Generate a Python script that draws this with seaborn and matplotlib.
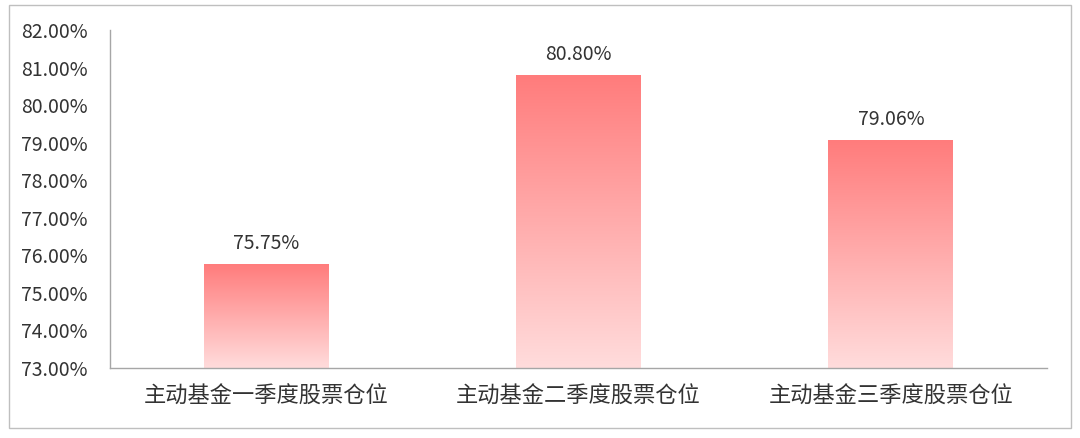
import numpy as np
import pandas as pd
import matplotlib
matplotlib.use('Agg')
import matplotlib.pyplot as plt
from matplotlib.colors import LinearSegmentedColormap
from matplotlib.patches import Rectangle
from matplotlib.ticker import FuncFormatter
import seaborn as sns

# 数据
categories = ['主动基金一季度股票仓位', '主动基金二季度股票仓位', '主动基金三季度股票仓位']
positions = [75.75, 80.80, 79.06]

sns.set_style('white')
plt.rcParams['font.family'] = ['Noto Sans CJK SC', 'DejaVu Sans']

df = pd.DataFrame({'cat': categories, 'val': positions})

fig = plt.figure(figsize=(10.8, 4.38), dpi=100)
ax = fig.add_axes([110 / 1080, 70 / 438, 937 / 1080, 338 / 438])

sns.barplot(data=df, x='cat', y='val', width=0.4, color='#FF7C7C', ax=ax)

# 渐变填充
cmap = LinearSegmentedColormap.from_list('grad', ['#FFDCDC', '#FF7C7C'])
grad = np.linspace(0, 1, 256).reshape(-1, 1)
for bar, v in zip(ax.patches, positions):
    x0 = bar.get_x()
    w = bar.get_width()
    ax.imshow(grad, cmap=cmap, origin='lower', aspect='auto',
              extent=[x0, x0 + w, 73, v], zorder=2)
    bar.set_visible(False)
    ax.text(x0 + w / 2, v + 0.28, '%.2f%%' % v, ha='center', va='bottom',
            fontsize=14, color='#333333')
ax.set_xlim(-0.5, 2.5)
ax.set_ylim(73, 82)

ax.set_yticks(np.arange(73, 82.5, 1))
ax.yaxis.set_major_formatter(FuncFormatter(lambda y, p: '%.2f%%' % y))
ax.tick_params(axis='y', labelsize=14, labelcolor='#333333', length=0, pad=16)
ax.tick_params(axis='x', labelsize=16, labelcolor='#333333', length=0, pad=12)
ax.set_xlabel('')
ax.set_ylabel('')

for s in ['top', 'right']:
    ax.spines[s].set_visible(False)
for s in ['left', 'bottom']:
    ax.spines[s].set_color('#A6A6A6')
    ax.spines[s].set_linewidth(1)

# 外框
fig.patches.append(Rectangle((9 / 1080, 10 / 438), 1062 / 1080, 423 / 438,
                             transform=fig.transFigure, fill=False,
                             edgecolor='#BFBFBF', linewidth=1))

plt.savefig('out.png', dpi=100)
